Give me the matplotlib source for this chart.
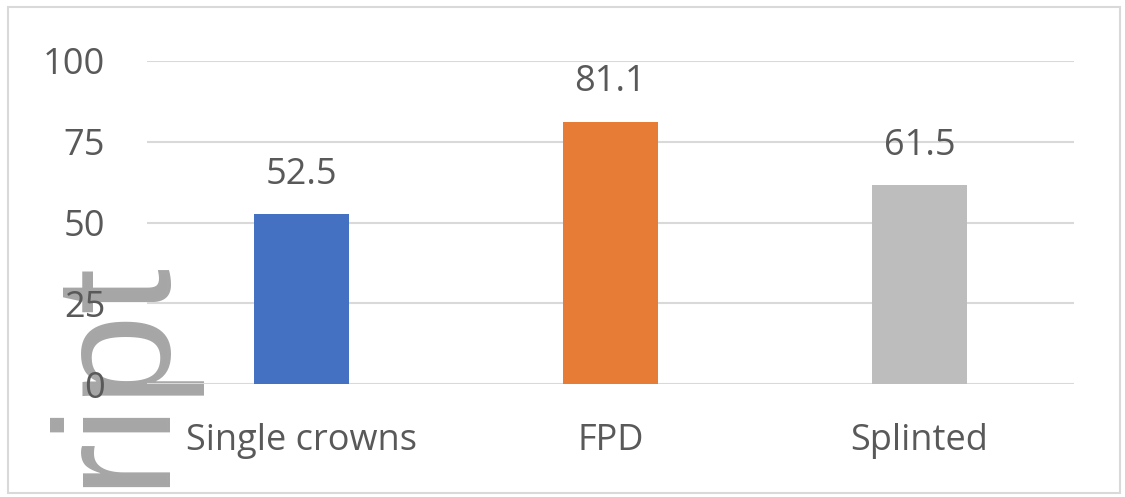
import matplotlib
matplotlib.use("Agg")
import matplotlib.pyplot as plt
from matplotlib.patches import Rectangle

# Chart data
categories = ["Single crowns", "FPD", "Splinted"]
values = [52.5, 81.1, 61.5]
bar_colors = ["#4571C2", "#E67C36", "#BDBDBD"]
y_ticks = [0, 25, 50, 75, 100]

TEXT = "#595959"
GRID = "#D9D9D9"
FONT = ["Open Sans", "DejaVu Sans"]
WM_FONT = ["Liberation Sans", "DejaVu Sans"]

W, H = 1125, 497
fig = plt.figure(figsize=(W / 100, H / 100), dpi=100, facecolor="white")
ax = fig.add_axes([147 / W, 1 - 384 / H, (1074 - 147) / W, (384 - 61) / H], zorder=2)
ax.patch.set_alpha(0)

x = list(range(len(categories)))
ax.bar(x, values, width=0.31, color=bar_colors, zorder=3)

for xi, v in zip(x, values):
    ax.annotate(f"{v}", xy=(xi, v), xytext=(0, 22), textcoords="offset points",
                ha="center", va="baseline", fontsize=26, color=TEXT, family=FONT)

ax.set_xlim(-0.5, len(categories) - 0.5)
ax.set_ylim(0, 100)
ax.set_yticks(y_ticks)
ax.set_xticks(x)
ax.set_xticklabels(categories)
ax.yaxis.grid(True, color=GRID, linewidth=1.5, zorder=0)
ax.set_axisbelow(True)
for s in ax.spines.values():
    s.set_visible(False)
ax.tick_params(axis="y", length=0, pad=30, labelsize=26, labelcolor=TEXT)
ax.tick_params(axis="x", length=0, pad=28, labelsize=26, labelcolor=TEXT)
for lab in ax.get_xticklabels() + ax.get_yticklabels():
    lab.set_family(FONT)

# Chart-area frame
fig.patches.append(Rectangle((8 / W, 1 - 493 / H), (1120 - 8) / W, (493 - 7) / H,
                             transform=fig.transFigure, fill=False,
                             edgecolor=GRID, linewidth=1.5))

# Vertical watermark on the left side, beneath the axis labels
fig.text(157.5 / W, 1 - 254 / H, "Manuscript", rotation=90, rotation_mode="anchor",
         ha="right", va="baseline", fontsize=119, color="#A6A6A6",
         family=WM_FONT, zorder=1)

fig.savefig("out.png", dpi=100)
